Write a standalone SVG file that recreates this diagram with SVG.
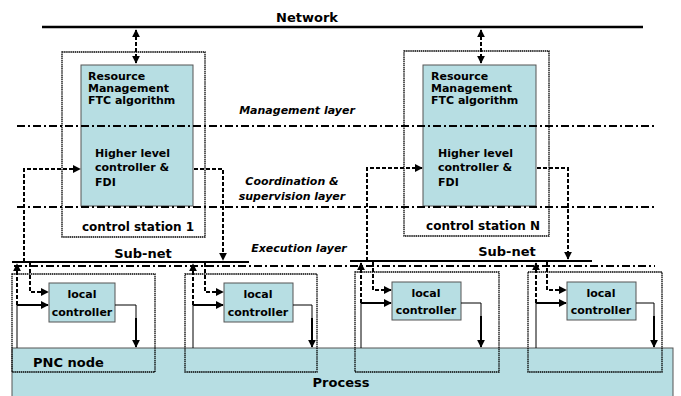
<svg xmlns="http://www.w3.org/2000/svg" width="681" height="396" viewBox="0 0 681 396">
<style>
text{font-family:"DejaVu Sans","Liberation Sans",sans-serif;font-weight:bold;fill:#000}
.t11{font-size:11px}
.t12{font-size:12px}
.t13{font-size:13px}
.it{font-style:italic;font-size:11px}
.teal{fill:#b7dee3;stroke:#555;stroke-width:1}
.outer{fill:none;stroke:#000;stroke-width:1.3;stroke-dasharray:1.5 0.6}
.layer{fill:none;stroke:#000;stroke-width:2;stroke-dasharray:8 3 2 3}
.dash{fill:none;stroke:#000;stroke-width:2;stroke-dasharray:4 2}
.solid{fill:none;stroke:#000;stroke-width:2}
.thin{fill:none;stroke:#000;stroke-width:1}
</style>
<defs>
<marker id="ah" viewBox="0 0 10 10" refX="9" refY="5" markerWidth="4" markerHeight="4" orient="auto-start-reverse" markerUnits="strokeWidth">
<path d="M0,0 L10,5 L0,10 z" fill="#000"/>
</marker>
</defs>

<g id="process">
<rect x="12" y="348" width="661" height="50" class="teal"/>
<text class="t13" x="341" y="387" text-anchor="middle">Process</text>
</g>

<g id="network">
<line x1="42" y1="27" x2="643" y2="27" stroke="#000" stroke-width="2.5"/>
<text class="t13" x="307" y="22" text-anchor="middle">Network</text>
</g>

<g id="station1">
<rect x="62" y="52" width="143" height="185" class="outer" fill="#fff"/>
<rect x="81" y="65" width="112" height="141" class="teal"/>
<text class="t11" x="88" y="80">Resource</text>
<text class="t11" x="88" y="92">Management</text>
<text class="t11" x="88" y="104">FTC algorithm</text>
<text class="t11" x="95" y="157">Higher level</text>
<text class="t11" x="95" y="171">controller &amp;</text>
<text class="t11" x="95" y="186">FDI</text>
<text class="t12" x="138" y="231" text-anchor="middle">control station 1</text>
</g>

<g id="stationN">
<rect x="404" y="51" width="145" height="185" class="outer" fill="#fff"/>
<rect x="423" y="65" width="113" height="141" class="teal"/>
<text class="t11" x="431" y="80">Resource</text>
<text class="t11" x="431" y="92">Management</text>
<text class="t11" x="431" y="104">FTC algorithm</text>
<text class="t11" x="438" y="157">Higher level</text>
<text class="t11" x="438" y="171">controller &amp;</text>
<text class="t11" x="438" y="186">FDI</text>
<text class="t12" x="483" y="230" text-anchor="middle">control station N</text>
</g>

<g id="layers">
<line x1="17" y1="126" x2="655" y2="126" class="layer"/>
<line x1="17" y1="207" x2="655" y2="207" class="layer"/>
<line x1="14" y1="266" x2="655" y2="266" class="layer"/>
<text class="it" x="297" y="114" text-anchor="middle">Management layer</text>
<text class="it" x="292" y="185" text-anchor="middle">Coordination &amp;</text>
<text class="it" x="292" y="200" text-anchor="middle">supervision layer</text>
<text class="it" x="299" y="252" text-anchor="middle">Execution layer</text>
</g>

<g id="subnets">
<line x1="12" y1="262" x2="249" y2="262" class="solid"/>
<line x1="350" y1="261" x2="592" y2="261" class="solid"/>
<text class="t13" x="143" y="258" text-anchor="middle">Sub-net</text>
<text class="t13" x="507" y="256" text-anchor="middle">Sub-net</text>
</g>

<g id="node1">
<rect x="12" y="274" width="143" height="98" class="outer"/>
<rect x="49" y="283" width="66" height="39" class="teal"/>
<text class="t11" x="82" y="298" text-anchor="middle">local</text>
<text class="t11" x="82" y="316" text-anchor="middle">controller</text>
<text class="t13" x="33" y="367">PNC node</text>
</g>
<g id="node2">
<rect x="185" y="274" width="132" height="98" class="outer"/>
<rect x="224" y="283" width="69" height="39" class="teal"/>
<text class="t11" x="258" y="298" text-anchor="middle">local</text>
<text class="t11" x="258" y="316" text-anchor="middle">controller</text>
</g>
<g id="node3">
<rect x="355" y="272" width="144" height="100" class="outer"/>
<rect x="392" y="282" width="69" height="38" class="teal"/>
<text class="t11" x="426" y="297" text-anchor="middle">local</text>
<text class="t11" x="426" y="314" text-anchor="middle">controller</text>
</g>
<g id="node4">
<rect x="528" y="272" width="134" height="100" class="outer"/>
<rect x="567" y="282" width="69" height="38" class="teal"/>
<text class="t11" x="601" y="297" text-anchor="middle">local</text>
<text class="t11" x="601" y="314" text-anchor="middle">controller</text>
</g>

<g id="connectors">
<line x1="136" y1="30" x2="136" y2="63" class="dash" marker-start="url(#ah)" marker-end="url(#ah)"/>
<line x1="481" y1="30" x2="481" y2="63" class="dash" marker-start="url(#ah)" marker-end="url(#ah)"/>
<polyline points="24,262 24,169 80,169" class="dash" marker-end="url(#ah)"/>
<polyline points="194,169 223,169 223,260" class="dash" marker-end="url(#ah)"/>
<polyline points="367,261 367,168 422,168" class="dash" marker-end="url(#ah)"/>
<polyline points="537,168 568,168 568,259" class="dash" marker-end="url(#ah)"/>

<line x1="17" y1="305" x2="17" y2="264" class="dash" marker-end="url(#ah)"/>
<line x1="17" y1="305" x2="17" y2="348" class="thin"/>
<line x1="17" y1="305" x2="48" y2="305" class="solid" marker-end="url(#ah)"/>
<polyline points="30,263 30,292 48,292" class="dash" marker-end="url(#ah)"/>
<polyline points="115,305 136,305 136,347" class="thin"/>
<line x1="136" y1="318" x2="136" y2="347" class="solid" marker-end="url(#ah)"/>

<line x1="193" y1="305" x2="193" y2="264" class="dash" marker-end="url(#ah)"/>
<line x1="193" y1="305" x2="193" y2="348" class="thin"/>
<line x1="193" y1="305" x2="223" y2="305" class="solid" marker-end="url(#ah)"/>
<polyline points="205,263 205,292 223,292" class="dash" marker-end="url(#ah)"/>
<polyline points="293,305 312,305 312,347" class="thin"/>
<line x1="312" y1="318" x2="312" y2="347" class="solid" marker-end="url(#ah)"/>

<line x1="361" y1="303" x2="361" y2="263" class="dash" marker-end="url(#ah)"/>
<line x1="361" y1="303" x2="361" y2="348" class="thin"/>
<line x1="361" y1="303" x2="391" y2="303" class="solid" marker-end="url(#ah)"/>
<polyline points="373,262 373,290 391,290" class="dash" marker-end="url(#ah)"/>
<polyline points="461,303 481,303 481,347" class="thin"/>
<line x1="481" y1="316" x2="481" y2="347" class="solid" marker-end="url(#ah)"/>

<line x1="536" y1="303" x2="536" y2="263" class="dash" marker-end="url(#ah)"/>
<line x1="536" y1="303" x2="536" y2="348" class="thin"/>
<line x1="536" y1="303" x2="566" y2="303" class="solid" marker-end="url(#ah)"/>
<polyline points="547,262 547,290 566,290" class="dash" marker-end="url(#ah)"/>
<polyline points="636,303 654,303 654,347" class="thin"/>
<line x1="654" y1="316" x2="654" y2="347" class="solid" marker-end="url(#ah)"/>
</g>
</svg>
